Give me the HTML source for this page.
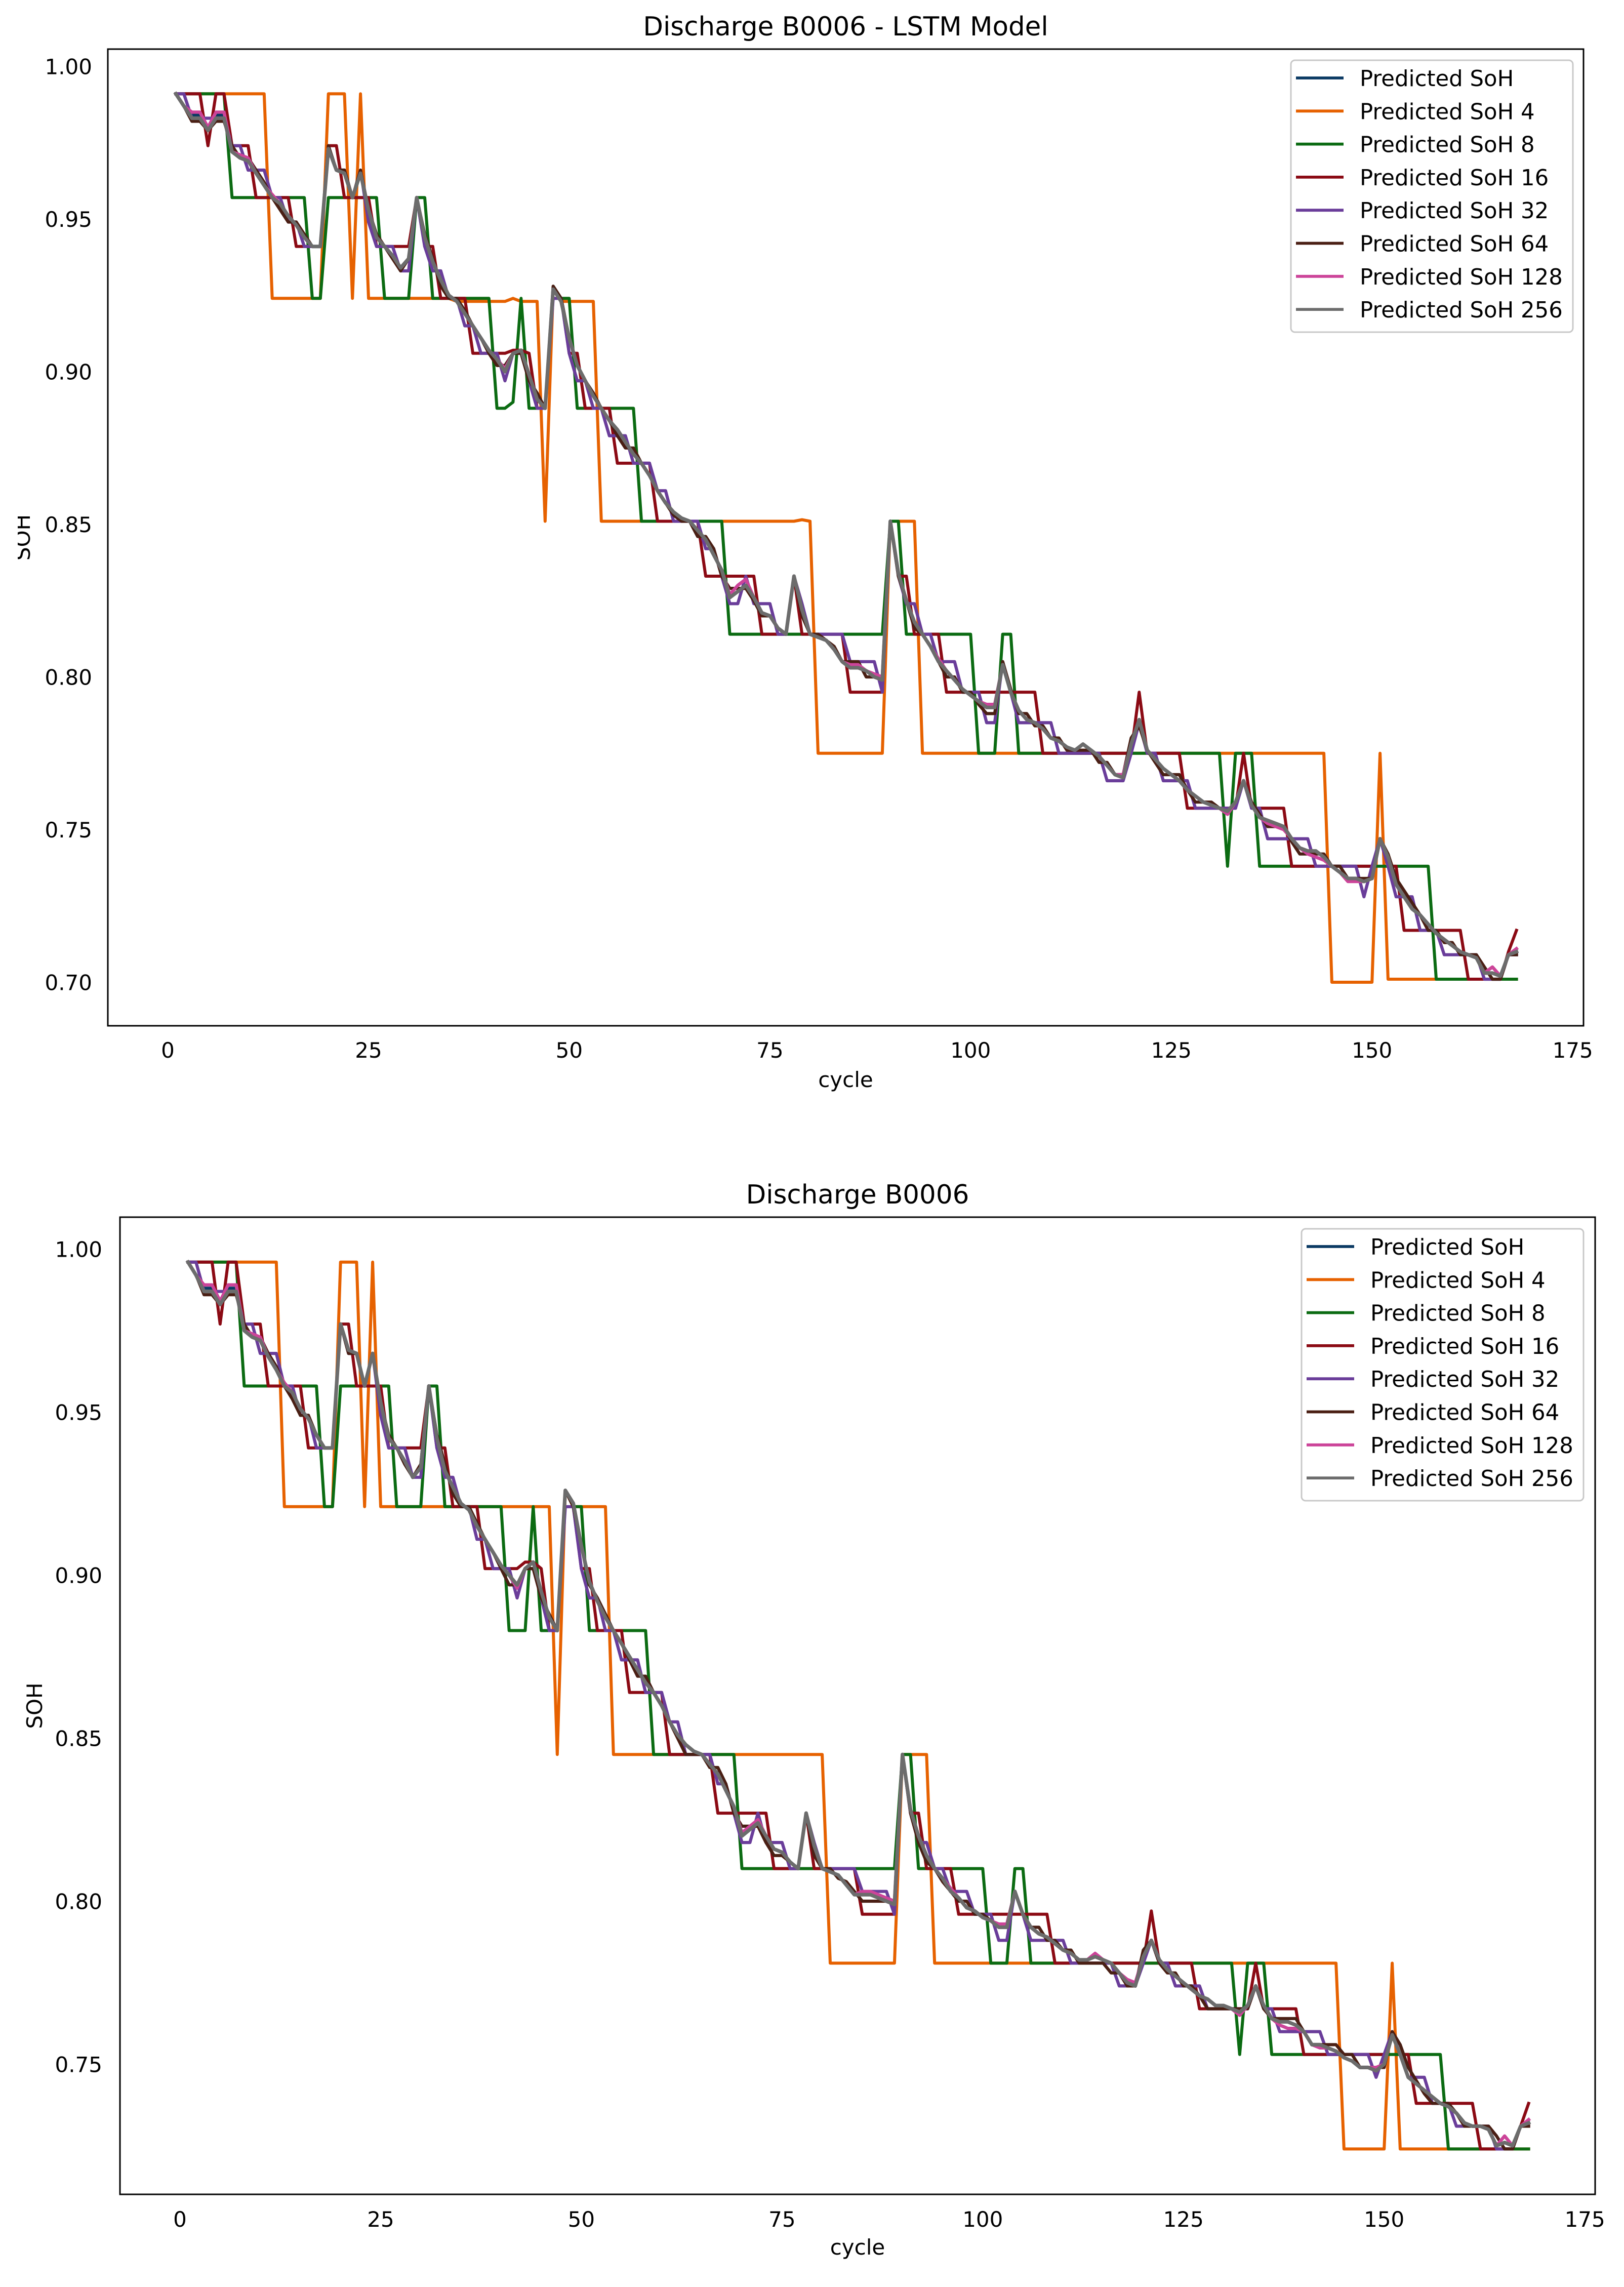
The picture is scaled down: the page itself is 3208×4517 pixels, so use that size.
<!DOCTYPE html>
<html lang="en">
<head>
<meta charset="utf-8">
<title>Discharge B0006 SoH charts</title>
<style>
html,body{margin:0;padding:0;background:#fff;}
svg{display:block;}
text{font-family:"DejaVu Sans","Liberation Sans",sans-serif;fill:#000;}
</style>
</head>
<body>
<svg id="figure" xmlns="http://www.w3.org/2000/svg" width="3208" height="4517" viewBox="0 0 3208 4517">
<rect x="0" y="0" width="3208" height="4517" fill="#ffffff"/>
<defs><clipPath id="ylabel-clip"><rect x="35" y="900" width="100" height="320"/></clipPath></defs>
</svg>
<script>
const seriesNames=["Predicted SoH","Predicted SoH 4","Predicted SoH 8","Predicted SoH 16","Predicted SoH 32","Predicted SoH 64","Predicted SoH 128","Predicted SoH 256"];
const xTicks=[0,25,50,75,100,125,150,175];
const yTicksTop=[0.70,0.75,0.80,0.85,0.90,0.95,1.00];
const yTicksBottom=[0.75,0.80,0.85,0.90,0.95,1.00];

const topPredicted=[.991,.987,.984,.984,.979,.984,.984,.972,.970,.969,
.965,.961,.957,.955,.951,.948,.944,.941,.941,.973,
.966,.965,.957,.965,.953,.944,.941,.938,.934,.937,
.957,.944,.936,.930,.925,.923,.919,.915,.911,.907,
.904,.900,.906,.907,.899,.891,.888,.927,.923,.911,
.902,.897,.892,.888,.884,.881,.877,.873,.870,.866,
.861,.857,.854,.852,.851,.848,.845,.840,.835,.826,
.828,.830,.826,.821,.820,.816,.814,.833,.822,.814,
.813,.812,.809,.805,.803,.803,.802,.800,.799,.851,
.834,.825,.818,.814,.810,.805,.802,.799,.796,.794,
.792,.790,.790,.804,.795,.789,.786,.785,.783,.780,
.779,.777,.776,.778,.776,.774,.771,.768,.767,.778,
.786,.776,.773,.770,.768,.766,.763,.761,.759,.758,
.757,.756,.759,.766,.758,.754,.753,.752,.751,.747,
.744,.743,.743,.741,.738,.736,.734,.734,.733,.734,
.747,.741,.732,.728,.724,.722,.719,.716,.714,.712,
.710,.709,.708,.703,.703,.702,.709,.710];
const topSoh4=[.991,.991,.991,.991,.991,.991,.991,.991,.991,.991,
.991,.991,.924,.924,.924,.924,.924,.924,.924,.991,
.991,.991,.924,.991,.924,.924,.924,.924,.924,.924,
.924,.924,.924,.924,.924,.923,.923,.923,.923,.923,
.923,.923,.924,.923,.923,.923,.851,.927,.923,.923,
.923,.923,.923,.851,.851,.851,.851,.851,.851,.851,
.851,.851,.851,.851,.851,.851,.851,.851,.851,.851,
.851,.851,.851,.851,.851,.851,.851,.851,.8515,.851,
.775,.775,.775,.775,.775,.775,.775,.775,.775,.851,
.851,.851,.851,.775,.775,.775,.775,.775,.775,.775,
.775,.775,.775,.775,.775,.775,.775,.775,.775,.775,
.775,.775,.775,.775,.775,.775,.775,.775,.775,.775,
.775,.775,.775,.775,.775,.775,.775,.775,.775,.775,
.775,.775,.775,.775,.775,.775,.775,.775,.775,.775,
.775,.775,.775,.775,.700,.700,.700,.700,.700,.700,
.775,.701,.701,.701,.701,.701,.701,.701,.701,.701,
.701,.701,.701,.701,.701,.701,.701,.701];
const topSoh8=[.991,.991,.991,.991,.991,.991,.991,.957,.957,.957,
.957,.957,.957,.957,.957,.957,.957,.924,.924,.957,
.957,.957,.957,.957,.957,.957,.924,.924,.924,.924,
.957,.957,.924,.924,.924,.924,.924,.924,.924,.924,
.888,.888,.890,.924,.888,.888,.888,.927,.924,.924,
.888,.888,.888,.888,.888,.888,.888,.888,.851,.851,
.851,.851,.851,.851,.851,.851,.851,.851,.851,.814,
.814,.814,.814,.814,.814,.814,.814,.814,.814,.814,
.814,.814,.814,.814,.814,.814,.814,.814,.814,.851,
.851,.814,.814,.814,.814,.814,.814,.814,.814,.814,
.775,.775,.775,.814,.814,.775,.775,.775,.775,.775,
.775,.775,.775,.775,.775,.775,.775,.775,.775,.775,
.775,.775,.775,.775,.775,.775,.775,.775,.775,.775,
.775,.738,.775,.775,.775,.738,.738,.738,.738,.738,
.738,.738,.738,.738,.738,.738,.738,.738,.738,.738,
.738,.738,.738,.738,.738,.738,.738,.701,.701,.701,
.701,.701,.701,.701,.701,.701,.701,.701];
const topSoh16=[.991,.991,.991,.991,.974,.991,.991,.974,.974,.974,
.957,.957,.957,.957,.957,.941,.941,.941,.941,.974,
.974,.957,.957,.957,.957,.941,.941,.941,.941,.941,
.957,.941,.941,.924,.924,.924,.924,.906,.906,.906,
.906,.906,.907,.907,.906,.888,.888,.927,.924,.906,
.906,.888,.888,.888,.888,.870,.870,.870,.870,.870,
.851,.851,.851,.851,.851,.851,.833,.833,.833,.833,
.833,.833,.833,.814,.814,.814,.814,.833,.814,.814,
.814,.814,.814,.814,.795,.795,.795,.795,.795,.851,
.833,.833,.814,.814,.814,.814,.795,.795,.795,.795,
.795,.795,.795,.795,.795,.795,.795,.795,.775,.775,
.775,.775,.775,.775,.775,.775,.775,.775,.775,.775,
.795,.775,.775,.775,.775,.775,.757,.757,.757,.757,
.757,.757,.757,.775,.757,.757,.757,.757,.757,.738,
.738,.738,.738,.738,.738,.738,.738,.738,.738,.738,
.747,.738,.738,.717,.717,.717,.717,.717,.717,.717,
.717,.701,.701,.701,.701,.701,.710,.717];
const topSoh32=[.991,.991,.983,.983,.983,.983,.983,.974,.974,.966,
.966,.966,.957,.957,.949,.949,.941,.941,.941,.974,
.966,.966,.957,.966,.949,.941,.941,.941,.933,.933,
.957,.941,.933,.933,.924,.924,.915,.915,.906,.906,
.906,.897,.906,.906,.897,.888,.888,.924,.924,.906,
.897,.897,.888,.888,.879,.879,.879,.870,.870,.870,
.861,.861,.851,.851,.851,.851,.842,.842,.833,.824,
.824,.833,.824,.824,.824,.814,.814,.833,.824,.814,
.814,.814,.814,.814,.805,.805,.805,.805,.795,.851,
.833,.824,.824,.814,.814,.805,.805,.805,.795,.795,
.795,.785,.785,.805,.795,.785,.785,.785,.785,.785,
.775,.775,.775,.775,.775,.775,.766,.766,.766,.775,
.785,.775,.775,.766,.766,.766,.766,.757,.757,.757,
.757,.757,.757,.766,.757,.757,.747,.747,.747,.747,
.747,.747,.738,.738,.738,.738,.738,.738,.728,.738,
.747,.738,.728,.728,.728,.717,.717,.717,.709,.709,
.709,.709,.709,.701,.701,.701,.709,.709];
const topSoh64=[.991,.987,.982,.982,.979,.982,.982,.974,.970,.970,
.966,.962,.957,.953,.949,.949,.945,.941,.941,.974,
.966,.966,.957,.966,.953,.945,.941,.937,.933,.937,
.957,.945,.937,.928,.924,.924,.920,.915,.911,.906,
.902,.902,.906,.906,.897,.893,.888,.928,.924,.911,
.902,.897,.893,.888,.884,.879,.875,.875,.870,.866,
.861,.857,.853,.851,.851,.846,.846,.842,.833,.829,
.829,.829,.825,.820,.820,.816,.814,.833,.820,.814,
.814,.812,.810,.805,.805,.805,.800,.800,.800,.851,
.833,.825,.816,.814,.810,.805,.800,.800,.795,.795,
.791,.788,.788,.805,.796,.788,.788,.784,.784,.780,
.780,.776,.776,.776,.776,.772,.772,.768,.768,.780,
.784,.776,.772,.768,.768,.768,.763,.759,.759,.759,
.757,.755,.759,.766,.759,.755,.751,.751,.751,.746,
.742,.742,.742,.742,.738,.738,.734,.734,.734,.734,
.747,.742,.734,.730,.726,.722,.717,.717,.713,.713,
.709,.709,.709,.705,.701,.701,.709,.709];
const topSoh128=[.991,.987,.985,.985,.980,.985,.985,.972,.971,.970,
.965,.961,.958,.955,.951,.948,.944,.941,.941,.973,
.966,.965,.957,.965,.953,.944,.941,.938,.934,.937,
.957,.944,.936,.930,.925,.923,.919,.915,.911,.907,
.904,.901,.906,.907,.899,.891,.888,.927,.923,.911,
.902,.897,.892,.888,.884,.881,.877,.873,.870,.866,
.861,.857,.854,.852,.851,.848,.845,.840,.835,.827,
.830,.832,.826,.821,.820,.816,.814,.833,.822,.814,
.813,.812,.809,.805,.804,.804,.802,.801,.800,.851,
.834,.825,.818,.814,.810,.806,.802,.799,.796,.794,
.792,.791,.791,.804,.795,.789,.786,.785,.783,.780,
.779,.777,.776,.778,.776,.774,.771,.768,.768,.778,
.786,.776,.773,.770,.768,.766,.763,.761,.759,.758,
.757,.755,.759,.766,.758,.754,.752,.751,.750,.747,
.744,.742,.741,.740,.738,.736,.733,.733,.733,.734,
.747,.741,.732,.728,.724,.722,.719,.716,.714,.712,
.710,.709,.708,.703,.705,.702,.709,.711];
const topSoh256=[.991,.987,.983,.983,.979,.983,.983,.972,.970,.969,
.965,.961,.957,.955,.951,.948,.944,.941,.941,.973,
.966,.965,.957,.965,.953,.944,.941,.938,.934,.937,
.957,.944,.936,.930,.925,.923,.919,.915,.911,.907,
.904,.900,.906,.907,.899,.891,.888,.927,.923,.911,
.902,.897,.892,.888,.884,.881,.877,.873,.870,.866,
.861,.857,.854,.852,.851,.848,.845,.840,.835,.826,
.828,.830,.826,.821,.820,.816,.814,.833,.822,.814,
.813,.812,.809,.805,.803,.803,.802,.800,.799,.851,
.834,.825,.818,.814,.810,.805,.802,.799,.796,.794,
.792,.790,.790,.804,.795,.789,.786,.785,.783,.780,
.779,.777,.776,.778,.776,.774,.771,.768,.767,.778,
.786,.776,.773,.770,.768,.766,.763,.761,.759,.758,
.757,.756,.759,.766,.758,.754,.753,.752,.751,.747,
.744,.743,.743,.741,.738,.736,.734,.734,.733,.734,
.747,.741,.732,.728,.724,.722,.719,.716,.714,.712,
.710,.709,.708,.703,.703,.702,.709,.710];

const bottomPredicted=[.996,.992,.988,.988,.983,.988,.988,.975,.973,.972,
.967,.963,.958,.956,.951,.948,.943,.939,.939,.977,
.969,.968,.958,.968,.953,.942,.939,.935,.930,.933,
.958,.942,.932,.927,.922,.920,.915,.911,.907,.903,
.900,.897,.902,.904,.895,.887,.883,.926,.922,.909,
.898,.892,.887,.883,.879,.875,.871,.867,.864,.860,
.855,.851,.848,.846,.845,.842,.839,.834,.829,.820,
.822,.824,.820,.816,.815,.812,.810,.827,.817,.810,
.809,.808,.805,.802,.802,.802,.801,.800,.799,.845,
.828,.820,.814,.810,.807,.803,.801,.798,.797,.795,
.794,.792,.792,.803,.796,.792,.790,.789,.787,.785,
.784,.782,.782,.783,.782,.781,.778,.775,.774,.783,
.788,.782,.779,.777,.775,.773,.771,.770,.768,.768,
.767,.766,.768,.774,.768,.764,.763,.763,.762,.760,
.756,.756,.755,.754,.752,.751,.749,.749,.748,.750,
.759,.753,.746,.744,.742,.740,.738,.737,.735,.732,
.731,.731,.730,.725,.726,.725,.731,.732];
const bottomSoh4=[.996,.996,.996,.996,.996,.996,.996,.996,.996,.996,
.996,.996,.921,.921,.921,.921,.921,.921,.921,.996,
.996,.996,.921,.996,.921,.921,.921,.921,.921,.921,
.921,.921,.921,.921,.921,.921,.921,.921,.921,.921,
.921,.921,.921,.921,.921,.921,.845,.926,.921,.921,
.921,.921,.921,.845,.845,.845,.845,.845,.845,.845,
.845,.845,.845,.845,.845,.845,.845,.845,.845,.845,
.845,.845,.845,.845,.845,.845,.845,.845,.845,.845,
.781,.781,.781,.781,.781,.781,.781,.781,.781,.845,
.845,.845,.845,.781,.781,.781,.781,.781,.781,.781,
.781,.781,.781,.781,.781,.781,.781,.781,.781,.781,
.781,.781,.781,.781,.781,.781,.781,.781,.781,.781,
.781,.781,.781,.781,.781,.781,.781,.781,.781,.781,
.781,.781,.781,.781,.781,.781,.781,.781,.781,.781,
.781,.781,.781,.781,.724,.724,.724,.724,.724,.724,
.781,.724,.724,.724,.724,.724,.724,.724,.724,.724,
.724,.724,.724,.724,.724,.724,.724,.724];
const bottomSoh8=[.996,.996,.996,.996,.996,.996,.996,.958,.958,.958,
.958,.958,.958,.958,.958,.958,.958,.921,.921,.958,
.958,.958,.958,.958,.958,.958,.921,.921,.921,.921,
.958,.958,.921,.921,.921,.921,.921,.921,.921,.921,
.883,.883,.883,.921,.883,.883,.883,.926,.921,.921,
.883,.883,.883,.883,.883,.883,.883,.883,.845,.845,
.845,.845,.845,.845,.845,.845,.845,.845,.845,.810,
.810,.810,.810,.810,.810,.810,.810,.810,.810,.810,
.810,.810,.810,.810,.810,.810,.810,.810,.810,.845,
.845,.810,.810,.810,.810,.810,.810,.810,.810,.810,
.781,.781,.781,.810,.810,.781,.781,.781,.781,.781,
.781,.781,.781,.781,.781,.781,.781,.781,.781,.781,
.781,.781,.781,.781,.781,.781,.781,.781,.781,.781,
.781,.753,.781,.781,.781,.753,.753,.753,.753,.753,
.753,.753,.753,.753,.753,.753,.753,.753,.753,.753,
.753,.753,.753,.753,.753,.753,.753,.724,.724,.724,
.724,.724,.724,.724,.724,.724,.724,.724];
const bottomSoh16=[.996,.996,.996,.996,.977,.996,.996,.977,.977,.977,
.958,.958,.958,.958,.958,.939,.939,.939,.939,.977,
.977,.958,.958,.958,.958,.939,.939,.939,.939,.939,
.958,.939,.939,.921,.921,.921,.921,.902,.902,.902,
.902,.902,.904,.904,.902,.883,.883,.926,.921,.902,
.902,.883,.883,.883,.883,.864,.864,.864,.864,.864,
.845,.845,.845,.845,.845,.845,.827,.827,.827,.827,
.827,.827,.827,.810,.810,.810,.810,.827,.810,.810,
.810,.810,.810,.810,.796,.796,.796,.796,.796,.845,
.827,.827,.810,.810,.810,.810,.796,.796,.796,.796,
.796,.796,.796,.796,.796,.796,.796,.796,.781,.781,
.781,.781,.781,.781,.781,.781,.781,.781,.781,.781,
.797,.781,.781,.781,.781,.781,.767,.767,.767,.767,
.767,.767,.767,.781,.767,.767,.767,.767,.767,.753,
.753,.753,.753,.753,.753,.753,.753,.753,.753,.753,
.759,.753,.753,.738,.738,.738,.738,.738,.738,.738,
.738,.724,.724,.724,.724,.724,.731,.738];
const bottomSoh32=[.996,.996,.987,.987,.987,.987,.987,.977,.977,.968,
.968,.968,.958,.958,.949,.949,.939,.939,.939,.977,
.968,.968,.958,.968,.949,.939,.939,.939,.930,.930,
.958,.939,.930,.930,.921,.921,.911,.911,.902,.902,
.902,.893,.902,.902,.893,.883,.883,.921,.921,.902,
.893,.893,.883,.883,.874,.874,.874,.864,.864,.864,
.855,.855,.845,.845,.845,.845,.836,.836,.827,.818,
.818,.827,.818,.818,.818,.810,.810,.827,.818,.810,
.810,.810,.810,.810,.803,.803,.803,.803,.796,.845,
.827,.818,.818,.810,.810,.803,.803,.803,.796,.796,
.796,.788,.788,.803,.796,.788,.788,.788,.788,.788,
.781,.781,.781,.781,.781,.781,.774,.774,.774,.781,
.788,.781,.781,.774,.774,.774,.774,.767,.767,.767,
.767,.767,.767,.774,.767,.767,.760,.760,.760,.760,
.760,.760,.753,.753,.753,.753,.753,.753,.746,.753,
.760,.753,.746,.746,.746,.738,.738,.738,.731,.731,
.731,.731,.731,.724,.724,.724,.731,.731];
const bottomSoh64=[.996,.992,.986,.986,.983,.986,.986,.977,.973,.973,
.968,.964,.958,.954,.949,.949,.943,.939,.939,.977,
.968,.968,.958,.968,.953,.943,.939,.934,.930,.934,
.958,.943,.934,.925,.921,.921,.916,.911,.907,.902,
.897,.897,.902,.902,.893,.888,.883,.926,.921,.909,
.897,.893,.888,.883,.879,.874,.869,.869,.864,.860,
.855,.850,.845,.845,.845,.841,.841,.836,.827,.823,
.823,.823,.818,.814,.814,.812,.810,.827,.814,.810,
.810,.807,.806,.803,.800,.800,.800,.800,.799,.845,
.827,.818,.812,.810,.806,.803,.800,.800,.796,.796,
.794,.792,.792,.803,.796,.792,.792,.788,.788,.785,
.785,.781,.781,.781,.781,.778,.778,.774,.774,.785,
.788,.781,.778,.778,.774,.774,.771,.767,.767,.767,
.767,.767,.767,.774,.767,.764,.764,.764,.764,.760,
.756,.756,.756,.756,.753,.753,.749,.749,.749,.749,
.760,.756,.749,.745,.741,.738,.738,.738,.735,.731,
.731,.731,.731,.728,.724,.724,.731,.731];
const bottomSoh128=[.996,.992,.989,.989,.984,.989,.989,.975,.974,.973,
.967,.963,.959,.956,.951,.948,.943,.939,.939,.977,
.969,.968,.958,.968,.953,.942,.939,.935,.930,.933,
.958,.942,.932,.927,.922,.920,.915,.911,.907,.903,
.900,.896,.902,.904,.895,.887,.883,.926,.922,.909,
.898,.892,.887,.883,.879,.875,.871,.867,.864,.860,
.855,.851,.848,.846,.845,.842,.839,.834,.829,.821,
.823,.825,.820,.816,.815,.812,.810,.827,.817,.810,
.809,.808,.805,.802,.803,.803,.802,.801,.800,.845,
.828,.820,.814,.810,.807,.804,.801,.798,.797,.795,
.794,.793,.793,.803,.796,.792,.790,.789,.787,.785,
.784,.782,.782,.784,.782,.781,.778,.776,.775,.783,
.788,.782,.779,.777,.775,.773,.771,.770,.768,.768,
.767,.765,.768,.774,.768,.764,.762,.761,.761,.760,
.756,.755,.755,.754,.752,.751,.749,.749,.749,.750,
.759,.753,.746,.744,.742,.740,.738,.737,.735,.732,
.731,.731,.730,.725,.728,.725,.731,.733];
const bottomSoh256=[.996,.992,.987,.987,.983,.987,.987,.975,.973,.972,
.967,.963,.958,.956,.951,.948,.943,.939,.939,.977,
.969,.968,.958,.968,.953,.942,.939,.935,.930,.933,
.958,.942,.932,.927,.922,.920,.915,.911,.907,.903,
.900,.897,.902,.904,.895,.887,.883,.926,.922,.909,
.898,.892,.887,.883,.879,.875,.871,.867,.864,.860,
.855,.851,.848,.846,.845,.842,.839,.834,.829,.820,
.822,.824,.820,.816,.815,.812,.810,.827,.817,.810,
.809,.808,.805,.802,.802,.802,.801,.800,.799,.845,
.828,.820,.814,.810,.807,.803,.801,.798,.797,.795,
.794,.792,.792,.803,.796,.792,.790,.789,.787,.785,
.784,.782,.782,.783,.782,.781,.778,.775,.774,.783,
.788,.782,.779,.777,.775,.773,.771,.770,.768,.768,
.767,.766,.768,.774,.768,.764,.763,.763,.762,.760,
.756,.756,.755,.754,.752,.751,.749,.749,.748,.750,
.759,.753,.746,.744,.742,.740,.738,.737,.735,.732,
.731,.731,.730,.725,.726,.725,.731,.732];

const NS="http://www.w3.org/2000/svg";
const figure=document.getElementById("figure");
const colors=["#0b3a63","#e66100","#0b6b12","#8b0a14","#6a3d9a","#4a1f14","#cc4499","#6c6c6c"];
const widths=[6,6,6,6,6.2,6.2,6.5,7.2];
const slug=["predicted-soh","predicted-soh-4","predicted-soh-8","predicted-soh-16","predicted-soh-32","predicted-soh-64","predicted-soh-128","predicted-soh-256"];

function makeText(parent,str,x,y,size,anchor){
  const t=document.createElementNS(NS,"text");
  t.setAttribute("x",x);
  t.setAttribute("y",y);
  t.setAttribute("font-size",size);
  t.setAttribute("text-anchor",anchor);
  t.textContent=str;
  parent.appendChild(t);
  return t;
}

function drawChart(cfg){
  const xScale=c=>cfg.x0+c*cfg.xUnit;
  const yScale=v=>cfg.yAtOne+(1-v)*cfg.yUnit;
  const g=document.createElementNS(NS,"g");
  
  
  figure.appendChild(g);

  cfg.series.forEach((vals,si)=>{
    const p=document.createElementNS(NS,"path");
    const d=vals.map((v,i)=>(i?"L":"M")+xScale(i+1).toFixed(1)+" "+yScale(v).toFixed(1)).join("");
    p.setAttribute("d",d);
    p.setAttribute("fill","none");
    p.setAttribute("stroke",colors[si]);
    p.setAttribute("stroke-width",widths[si]);
    p.setAttribute("stroke-linejoin","round");
    p.setAttribute("stroke-linecap","square");
    
    
    g.appendChild(p);
  });

  const frame=document.createElementNS(NS,"rect");
  frame.setAttribute("x",cfg.left);
  frame.setAttribute("y",cfg.top);
  frame.setAttribute("width",cfg.right-cfg.left);
  frame.setAttribute("height",cfg.bottom-cfg.top);
  frame.setAttribute("fill","none");
  frame.setAttribute("stroke","#000");
  frame.setAttribute("stroke-width","3");
  
  
  g.appendChild(frame);

  const title=makeText(g,cfg.title,(cfg.left+cfg.right)/2,cfg.titleY,51.5,"middle");
  
  

  xTicks.forEach(tick=>{
    const t=makeText(g,String(tick),xScale(tick),cfg.xTickY,42,"middle");
    
    
  });
  cfg.yTicks.forEach(tick=>{
    const t=makeText(g,tick.toFixed(2),cfg.yTickX,yScale(tick)+15.5,42,"end");
    
    
  });

  const xTitle=makeText(g,"cycle",(cfg.left+cfg.right)/2,cfg.xTitleY,42,"middle");
  
  

  const yTitle=makeText(g,"SOH",0,0,42,"middle");
  yTitle.setAttribute("transform","translate("+cfg.yTitleX+" "+(cfg.top+cfg.bottom)/2+") rotate(-90)");
  
  
  if(cfg.clipY){
    const wrap=document.createElementNS(NS,"g");
    wrap.setAttribute("clip-path","url(#ylabel-clip)");
    
    
    g.appendChild(wrap);
    wrap.appendChild(yTitle);
  }

  const legend=document.createElementNS(NS,"g");
  
  
  g.appendChild(legend);
  const box=document.createElementNS(NS,"rect");
  box.setAttribute("x",cfg.legX);
  box.setAttribute("y",cfg.legY);
  box.setAttribute("width",cfg.legW);
  box.setAttribute("height",cfg.legH);
  box.setAttribute("rx","8");
  box.setAttribute("fill","#ffffff");
  box.setAttribute("stroke","#c8c8c8");
  box.setAttribute("stroke-width","3");
  
  
  legend.appendChild(box);
  seriesNames.forEach((n,i)=>{
    const rowY=cfg.legY+35+i*65.3;
    const l=document.createElementNS(NS,"line");
    l.setAttribute("x1",cfg.legX+10);
    l.setAttribute("x2",cfg.legX+104);
    l.setAttribute("y1",rowY);
    l.setAttribute("y2",rowY);
    l.setAttribute("stroke",colors[i]);
    l.setAttribute("stroke-width","5.8");
    
    
    legend.appendChild(l);
    const t=makeText(legend,n,cfg.legX+136,rowY+16,43.4,"start");
    
    
  });
}

drawChart({
  name:"chart-lstm-model",
  title:"Discharge B0006 - LSTM Model",
  series:[topPredicted,topSoh4,topSoh8,topSoh16,topSoh32,topSoh64,topSoh128,topSoh256],
  yTicks:yTicksTop,
  left:213,right:3128,top:97,bottom:2026,
  x0:331.5,xUnit:15.858,
  yAtOne:131,yUnit:6030,
  titleY:70,xTickY:2089,xTitleY:2147,yTickX:182,yTitleX:59,clipY:true,
  legX:2550,legY:119,legW:557,legH:537
});
drawChart({
  name:"chart-discharge",
  title:"Discharge B0006",
  series:[bottomPredicted,bottomSoh4,bottomSoh8,bottomSoh16,bottomSoh32,bottomSoh64,bottomSoh128,bottomSoh256],
  yTicks:yTicksBottom,
  left:237,right:3151,top:2404,bottom:4334,
  x0:355.5,xUnit:15.858,
  yAtOne:2467,yUnit:6440,
  titleY:2377,xTickY:4398,xTitleY:4453,yTickX:202,yTitleX:83,clipY:false,
  legX:2571,legY:2427,legW:557,legH:537
});
</script>
</body>
</html>
